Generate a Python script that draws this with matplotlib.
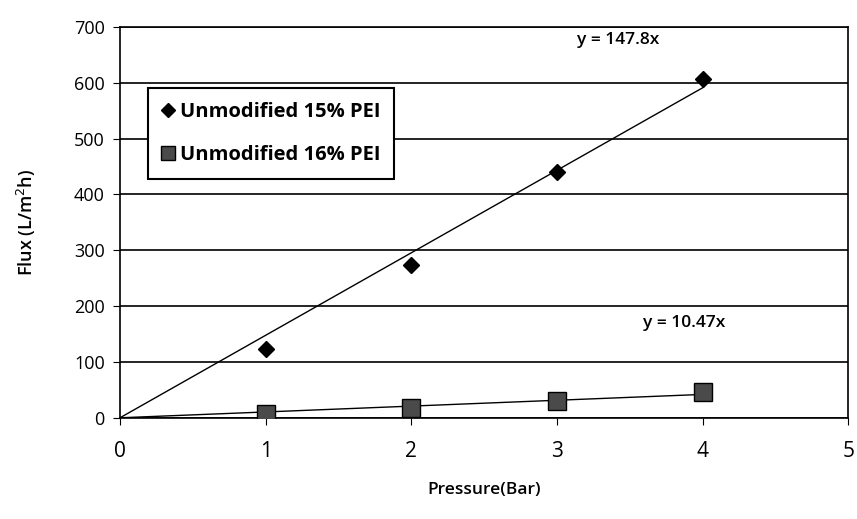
import matplotlib
matplotlib.use("Agg")
import matplotlib.pyplot as plt
import numpy

plt.rcParams['font.family'] = ["Open Sans", "DejaVu Sans"]

# Data
pressure = [1, 2, 3, 4]
flux_15 = [124, 274, 441, 607]
flux_16 = [6, 18, 30, 46]

# Trendline slopes (through origin) as labelled on the chart
slope_15 = 147.8
slope_16 = 10.47
trend_x = [0, 4]

x_ticks = [0, 1, 2, 3, 4, 5]
y_ticks = [0, 100, 200, 300, 400, 500, 600, 700]

fig = plt.figure(figsize=(8.57, 5.19), dpi=100)
ax = fig.add_axes([0.140, 0.195, 0.850, 0.753])

# horizontal gridlines
for y in y_ticks:
    ax.axhline(y, color='black', linewidth=1.2, zorder=1)

trend_15 = [slope_15 * x for x in trend_x]
trend_16 = [slope_16 * x for x in trend_x]
ax.plot(trend_x, trend_15, color='black', linewidth=1.0, zorder=2)
ax.plot(trend_x, trend_16, color='black', linewidth=1.0, zorder=2)

h1, = ax.plot(pressure, flux_15, linestyle='none', marker='D', markersize=8,
              color='black', label="Unmodified 15% PEI", zorder=3)
h2, = ax.plot(pressure, flux_16, linestyle='none', marker='s', markersize=13,
              markerfacecolor='#4a4a4a', markeredgecolor='black', markeredgewidth=1.0,
              label="Unmodified 16% PEI", zorder=3)

ax.text(3.42, 677, "y = 147.8x", fontsize=12.5, fontweight='semibold', ha='center', va='center')
ax.text(3.87, 170, "y = 10.47x", fontsize=12.5, fontweight='semibold', ha='center', va='center')

ax.set_xlim(0, 5)
ax.set_ylim(0, 700)
ax.set_xticks(x_ticks)
ax.set_yticks(y_ticks)
ax.tick_params(axis='x', labelsize=15, direction='out', length=5, pad=12)
ax.tick_params(axis='y', labelsize=13, direction='out', length=5, pad=6)

for s in ['left', 'right', 'bottom', 'top']:
    ax.spines[s].set_color('black')
    ax.spines[s].set_linewidth(1.2)

ax.set_xlabel("Pressure(Bar)", fontsize=12.5, fontweight='semibold', labelpad=14)
ax.set_ylabel("Flux (L/m$^2$h)", fontsize=13, fontweight='semibold', labelpad=26)

leg = ax.legend(handles=[h1, h2], loc='upper left', bbox_to_anchor=(0.038, 0.843),
                frameon=True, fancybox=False, edgecolor='black', framealpha=1,
                handlelength=0.6, handletextpad=0.3, borderpad=0.7, labelspacing=1.1,
                borderaxespad=0, prop={'size': 14.5, 'weight': 'bold'})
leg.get_frame().set_linewidth(1.5)
leg.legend_handles[0].set_markersize(7)
leg.legend_handles[1].set_markersize(10)

fig.savefig("out.png", dpi=100)
